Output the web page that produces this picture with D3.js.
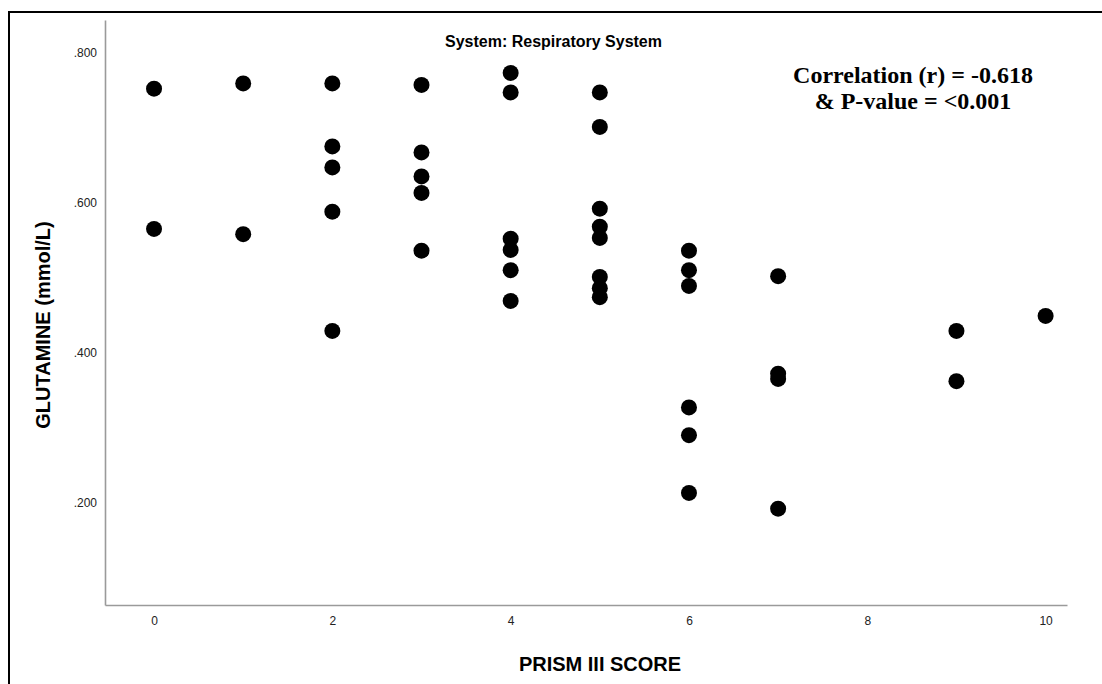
<!DOCTYPE html>
<html>
<head>
<meta charset="utf-8">
<script src="https://cdn.jsdelivr.net/npm/d3@7"></script>
<style>
  body { margin: 0; background: #fff; }
</style>
</head>
<body>
<div id="chart"></div>
<script>
// PRISM III score (x) for each patient
var prismScore = [
  0, 0,
  1, 1,
  2, 2, 2, 2, 2,
  3, 3, 3, 3, 3,
  4, 4, 4, 4, 4, 4,
  5, 5, 5, 5, 5, 5, 5, 5,
  6, 6, 6, 6, 6, 6,
  7, 7, 7, 7,
  9, 9,
  10
];
// glutamine (mmol/L), same order
var glutamine = [
  0.752, 0.565,
  0.759, 0.558,
  0.759, 0.675, 0.647, 0.588, 0.429,
  0.757, 0.667, 0.635, 0.613, 0.536,
  0.773, 0.747, 0.552, 0.537, 0.510, 0.469,
  0.747, 0.701, 0.592, 0.568, 0.553, 0.501, 0.486, 0.474,
  0.536, 0.510, 0.489, 0.327, 0.290, 0.213,
  0.502, 0.372, 0.365, 0.192,
  0.429, 0.362,
  0.449
];
var xTicks = [0, 2, 4, 6, 8, 10];
var yTicks = [0.2, 0.4, 0.6, 0.8];

var sans = "Arial, 'Liberation Sans', sans-serif";
var serif = "'Times New Roman', 'Liberation Serif', serif";

var W = 1102, H = 684;
var svg = d3.select("#chart").append("svg")
  .attr("width", W).attr("height", H);

// outer frame (only top and left edges show)
svg.append("rect")
  .attr("x", 9).attr("y", 12)
  .attr("width", W + 20).attr("height", H + 20)
  .attr("fill", "none").attr("stroke", "#000").attr("stroke-width", 2);

// scales
var x = d3.scaleLinear().domain([-0.55, 10.24]).range([105, 1067]);
var y = d3.scaleLinear().domain([0.0636, 0.8436]).range([605, 20]);

// axes
var xAxis = svg.append("g")
  .attr("transform", "translate(0,605)")
  .call(d3.axisBottom(x).tickValues(xTicks).tickSize(0).tickPadding(11).tickFormat(d3.format("d")));
var yAxis = svg.append("g")
  .attr("transform", "translate(105,0)")
  .call(d3.axisLeft(y).tickValues(yTicks).tickSize(0).tickPadding(8)
    .tickFormat(function (d) { return d3.format(".3f")(d).replace(/^0/, ""); }));

[xAxis, yAxis].forEach(function (g) {
  g.select(".domain").attr("stroke", "#9a9a9a").attr("stroke-width", 1.6);
  g.selectAll("text").style("font-size", "12px").style("fill", "#222")
    .style("font-family", sans);
});

// points
svg.append("g")
  .selectAll("circle")
  .data(prismScore)
  .enter()
  .append("circle")
  .attr("cx", function (d) { return x(d); })
  .attr("cy", function (d, i) { return y(glutamine[i]); })
  .attr("r", 8)
  .attr("fill", "#000");

// chart title
svg.append("text")
  .attr("x", 445).attr("y", 47)
  .attr("text-anchor", "start")
  .style("font-family", sans)
  .style("font-size", "16px").style("font-weight", "bold")
  .text("System: Respiratory System");

// correlation annotation
var note = svg.append("text")
  .attr("text-anchor", "middle")
  .style("font-family", serif)
  .style("font-weight", "bold").style("font-size", "24px");
note.append("tspan").attr("x", 913).attr("y", 83).text("Correlation (r) = -0.618");
note.append("tspan").attr("x", 913).attr("y", 109).text("& P-value = <0.001");

// axis titles
svg.append("text")
  .attr("x", 600).attr("y", 671)
  .attr("text-anchor", "middle")
  .style("font-family", sans)
  .style("font-size", "20px").style("font-weight", "bold")
  .text("PRISM III SCORE");

svg.append("text")
  .attr("transform", "translate(50,325) rotate(-90)")
  .attr("text-anchor", "middle")
  .style("font-family", sans)
  .style("font-size", "20px").style("font-weight", "bold")
  .text("GLUTAMINE (mmol/L)");
</script>
</body>
</html>
